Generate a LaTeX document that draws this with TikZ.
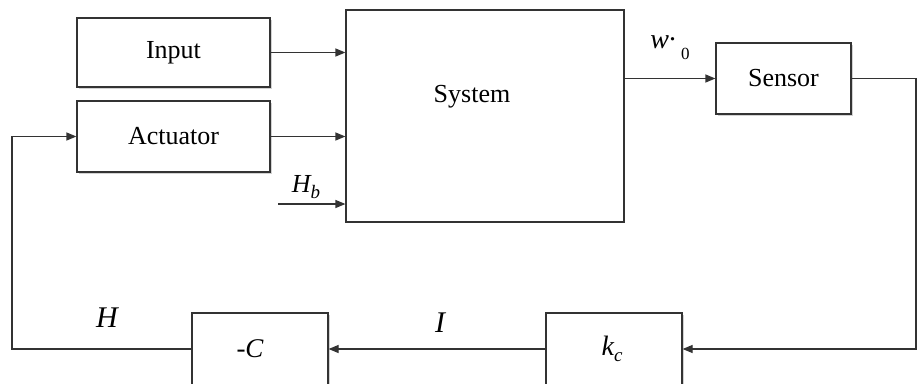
\documentclass[tikz,border=0pt]{standalone}
\usepackage{fontspec}
\setmainfont{Liberation Serif}
\usetikzlibrary{arrows.meta,shadows}
\begin{document}
\begin{tikzpicture}[x=1pt,y=-1pt,
  blk/.style={draw=black!80, line width=1.2pt, fill=white, inner sep=0pt, font=\fontsize{26}{30}\selectfont},
  shblk/.style={blk, drop shadow={shadow xshift=1.5pt, shadow yshift=-1.5pt, opacity=0.35, fill=black!50}},
  lbl/.style={inner sep=0pt, font=\fontsize{30}{34}\selectfont\itshape},
  conn/.style={draw=black!80, line width=1.2pt},
  arr/.style={conn, -{Triangle[length=10pt,width=8pt]}}]
\clip (0,0) rectangle (918,383);
\fill[white] (0,0) rectangle (918,383);
% blocks
\node[shblk, minimum width=193pt, minimum height=69pt] (input) at (173.5,52.5) {Input};
\node[shblk, minimum width=193pt, minimum height=71pt] (act) at (173.5,136.5) {Actuator};
\node[blk, minimum width=278pt, minimum height=212pt] (sys) at (485,116) {};
\node[inner sep=0pt, font=\fontsize{26}{30}\selectfont] (systxt) at (472,97) {System};
\node[shblk, minimum width=135pt, minimum height=71pt] (sensor) at (783.5,78.5) {Sensor};
\node[shblk, minimum width=136pt, minimum height=72pt] (mc) at (260,349) {};
\node[lbl, font=\fontsize{27}{30}\selectfont\itshape] (mctxt) at (250,349) {-C};
\node[shblk, minimum width=136pt, minimum height=72pt] (kc) at (614,349) {};
\node[lbl, font=\fontsize{28}{30}\selectfont\itshape] (kctxt) at (612,349) {k\raisebox{-0.22em}{\fontsize{19}{20}\selectfont c}};
% connectors
\draw[arr] (input.east) -- (input.east -| sys.west);
\draw[arr] (act.east) -- (act.east -| sys.west);
\coordinate (hb) at (278,204);
\draw[arr] (hb) -- (hb -| sys.west);
\draw[arr] (sys.east |- sensor.west) -- (sensor.west);
\coordinate (r1) at (916,349);
\draw[arr] (sensor.east) -| (r1) -- (kc.east);
\draw[arr] (kc.west) -- (mc.east);
\coordinate (l1) at (12,349);
\draw[arr] (mc.west) -- (l1) |- (act.west);
% labels
\node[lbl] (H) at (107,318) {H};
\node[lbl] (I) at (440,323) {I};
\node[lbl, font=\fontsize{26}{30}\selectfont\itshape] (Hb) at (306,187) {H\raisebox{-0.25em}{\fontsize{19}{20}\selectfont b}};
\node[inner sep=0pt, font=\fontsize{28}{30}\selectfont] (w0) at (670,48) {\textit{w}\raisebox{0.3em}{.}\hspace{5pt}\raisebox{-0.4em}{\fontsize{17}{18}\selectfont 0}};
\end{tikzpicture}
\end{document}
